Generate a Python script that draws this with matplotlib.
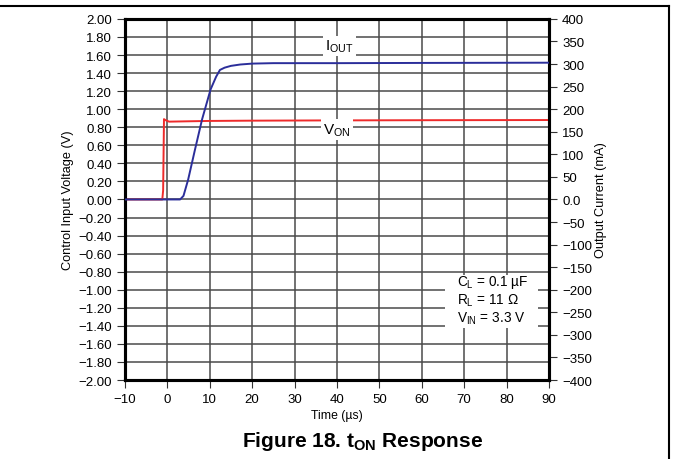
import numpy as np
import matplotlib.pyplot as plt
from matplotlib.lines import Line2D

plt.rcParams['font.family'] = ['Liberation Sans', 'DejaVu Sans']

# V_ON trace (left axis, V)
t_von = [-10, -1.2, -1.0, -0.8, -0.5, 0.4, 5, 10, 20, 40, 60, 90]
v_on = [0.0, 0.0, 0.10, 0.89, 0.88, 0.862, 0.866, 0.870, 0.873, 0.876, 0.878, 0.880]

# I_OUT trace (right axis, mA)
t_iout = [-10, 3.0, 3.8, 4.9, 6.5, 8.2, 10.2, 11.5, 12.4, 13.5, 15, 17.2, 20, 25, 40, 60, 90]
i_out = [0, 0, 8, 44, 110, 178, 244, 272, 287, 292, 296, 299, 301, 302, 302, 302.5, 303]

x_ticks = list(range(-10, 91, 10))
v_ticks = [round(-2.0 + 0.2 * k, 2) for k in range(21)]
i_ticks = list(range(-400, 401, 50))


def fmt_v(v):
    s = f"{abs(v):.2f}"
    return ("\u2212" + s) if v < 0 else s


fig = plt.figure(figsize=(6.73, 4.60), dpi=100)
ax = fig.add_axes([0.1857, 0.1717, 0.630, 0.785])
ax2 = ax.twinx()

ax.set_xlim(-10, 90)
ax.set_ylim(-2.0, 2.0)
ax2.set_ylim(-400, 400)

ax.set_xticks(x_ticks)
ax.set_xticklabels([str(x).replace('-', '\u2212') for x in x_ticks])
ax.set_yticks(v_ticks)
ax.set_yticklabels([fmt_v(v) for v in v_ticks])
ax2.set_yticks(i_ticks)
ax2.set_yticklabels(["0.0" if i == 0 else str(i).replace('-', '\u2212') for i in i_ticks])

ax.grid(True, color='#4a4a4a', linewidth=1.1)
ax.set_axisbelow(True)
for s in ['left', 'right', 'bottom', 'top']:
    ax.spines[s].set_linewidth(2.2)
    ax2.spines[s].set_linewidth(2.2)
ax.tick_params(axis='both', labelsize=9.5, length=6, width=0.8, color='#333333')
ax2.tick_params(axis='y', labelsize=9.5, length=6, width=0.8, color='#333333')

ax.plot(t_von, v_on, color='#ee2b2b', lw=1.4, zorder=4)
ax2.plot(t_iout, i_out, color='#2b2e9a', lw=1.4, zorder=4)

ax.set_xlabel("Time (\u00b5s)", fontsize=8.8, labelpad=3)
ax.set_ylabel("Control Input Voltage (V)", fontsize=9.2, labelpad=3)
ax2.set_ylabel("Output Current (mA)", fontsize=9.2, labelpad=2)

box = dict(facecolor='white', edgecolor='none', pad=1.5)
ax.text(40.5, 1.70, r"I$_{\mathregular{OUT}}$", fontsize=11, ha='center', va='center',
        bbox=box, zorder=5)
ax.text(40.0, 0.77, r"V$_{\mathregular{ON}}$", fontsize=11, ha='center', va='center',
        bbox=box, zorder=5)

ax.add_patch(plt.Rectangle((65.5, -1.42), 21.9, 0.58, facecolor='white',
                           edgecolor='none', zorder=3))
ax.text(68.3, -0.91, "C$_{\\mathregular{L}}$ = 0.1 \u00b5F", fontsize=9.8, va='center', zorder=5)
ax.text(68.3, -1.11, "R$_{\\mathregular{L}}$ = 11 \u03a9", fontsize=9.8, va='center', zorder=5)
ax.text(68.3, -1.31, "V$_{\\mathregular{IN}}$ = 3.3 V", fontsize=9.8, va='center', zorder=5)

fig.text(363 / 673, 1 - 442 / 460, r"Figure 18. t$_{\mathregular{ON}}$ Response",
         fontsize=15, fontweight='bold', ha='center', va='center')

# page frame (top and right)
fig.add_artist(Line2D([0, 669 / 673], [1 - 7.3 / 460] * 2, color='black', lw=1.5,
                      transform=fig.transFigure))
fig.add_artist(Line2D([669 / 673] * 2, [0, 1 - 7.3 / 460], color='black', lw=1.5,
                      transform=fig.transFigure))

fig.savefig("out.png", dpi=100)
